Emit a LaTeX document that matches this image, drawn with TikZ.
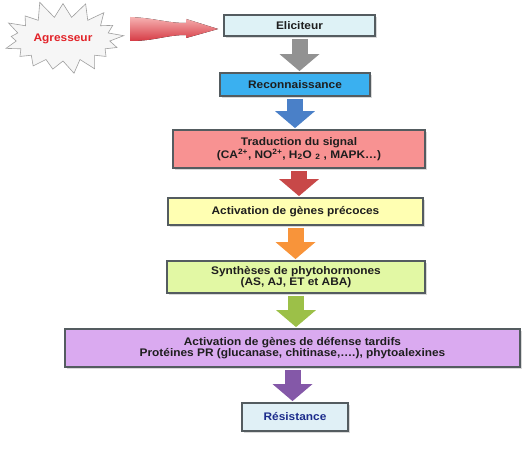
\documentclass[tikz,border=0pt]{standalone}
\usepackage{fontspec}
\setmainfont[FakeStretch=1.08]{Liberation Sans}
\usepackage{tikz}
\usetikzlibrary{arrows.meta,positioning,calc,shapes.symbols,shadows}

% couleurs des cadres
\definecolor{bordGris}{RGB}{84,92,96}
\definecolor{texteNoir}{RGB}{30,30,30}
\definecolor{fondElic}{RGB}{222,242,246}
\definecolor{fondRecon}{RGB}{58,176,240}
\definecolor{fondTrad}{RGB}{248,146,146}
\definecolor{fondPrec}{RGB}{255,255,178}
\definecolor{fondSynth}{RGB}{226,248,164}
\definecolor{fondTard}{RGB}{218,170,240}
\definecolor{fondResist}{RGB}{224,240,246}
\definecolor{bleuResist}{RGB}{28,44,140}
\definecolor{rougeAgr}{RGB}{226,34,40}
% couleurs des fleches
\definecolor{flGris}{RGB}{146,146,146}
\definecolor{flBleu}{RGB}{74,128,200}
\definecolor{flRouge}{RGB}{200,72,72}
\definecolor{flOrange}{RGB}{248,148,58}
\definecolor{flVert}{RGB}{156,192,72}
\definecolor{flViolet}{RGB}{132,88,168}

\begin{document}
\begin{tikzpicture}[
    x=1pt, y=-1pt,
    % --- STYLES ---
    etape/.style={
        rectangle, draw=bordGris, line width=1.8pt,
        align=center, text=texteNoir,
        font=\bfseries\fontsize{11}{11}\selectfont,
        inner sep=2pt,
        drop shadow={shadow xshift=2pt, shadow yshift=-2pt, opacity=0.3}
    },
    fleche/.style={
        line width=16pt, -{Triangle[length=17pt,width=39pt]},
        shorten <=2pt, shorten >=1pt
    },
    agresseur/.style={
        starburst, starburst points=17, starburst point height=18pt,
        random starburst=11, fill=gray!7, draw=gray!75, line width=0.6pt,
        minimum width=130pt, minimum height=80pt, inner sep=0pt,
        font=\bfseries\fontsize{11}{11}\selectfont, text=rougeAgr
    }
]

\useasboundingbox (0,0) rectangle (528,449);

% ===== 1. AGRESSEUR =====
\node[agresseur] (agr) at (63,39) {Agresseur};

% ===== 2. ETAPES =====
\node[etape, fill=fondElic, minimum width=151pt, minimum height=21pt] (elic) at (299.5,25.5) {Eliciteur};
\node[etape, fill=fondRecon, minimum width=150pt, minimum height=23pt] (recon) at (295,84.5) {Reconnaissance};
\node[etape, fill=fondTrad, minimum width=252pt, minimum height=38pt] (trad) at (299,149)
    {Traduction du signal\\ (CA\textsuperscript{2+}, NO\textsuperscript{2+}, H\textsubscript{2}O \textsubscript{2} , MAPK\dots)};
\node[etape, fill=fondPrec, minimum width=255pt, minimum height=27pt] (prec) at (295.5,211.5) {Activation de gènes précoces};
\node[etape, fill=fondSynth, minimum width=258pt, minimum height=32pt] (synth) at (296,277)
    {Synthèses de phytohormones\\ (AS, AJ, ET et ABA)};
\node[etape, fill=fondTard, minimum width=455pt, minimum height=38pt] (tard) at (292.5,348)
    {Activation de gènes de défense tardifs\\ Protéines PR (glucanase, chitinase,\dots.), phytoalexines};
\node[etape, fill=fondResist, minimum width=106pt, minimum height=28pt, text=bleuResist] (resist) at (295,417) {Résistance};

% ===== 3. FLECHE AGRESSEUR -> ELICITEUR =====
\coordinate (queue) at (130,29);
\coordinate (pointe) at ([xshift=-5pt]elic.west |- queue);
\fill[top color={rgb,255:red,246;green,178;blue,178}, bottom color={rgb,255:red,214;green,58;blue,68}]
    ($(queue)+(0,-12)$) .. controls +(25,1) and +(-20,0) .. ($(pointe)+(-32,-6)$)
    -- ++(0,-4) -- (pointe) -- ($(pointe)+(-32,9)$) -- ++(0,-3)
    .. controls +(-20,0) and +(25,0) .. ($(queue)+(0,12)$) -- cycle;

% ===== 4. FLECHES ENTRE ETAPES =====
\draw[fleche, draw=flGris] (elic.south) -- (elic.south |- recon.north);
\draw[fleche, draw=flBleu] (recon.south) -- (recon.south |- trad.north);
\draw[fleche, draw=flRouge] (trad.south) -- (trad.south |- prec.north);
\draw[fleche, draw=flOrange] (prec.south) -- (prec.south |- synth.north);
\draw[fleche, draw=flVert] (synth.south) -- (synth.south |- tard.north);
\draw[fleche, draw=flViolet] (tard.south) -- (tard.south |- resist.north);

\end{tikzpicture}
\end{document}
